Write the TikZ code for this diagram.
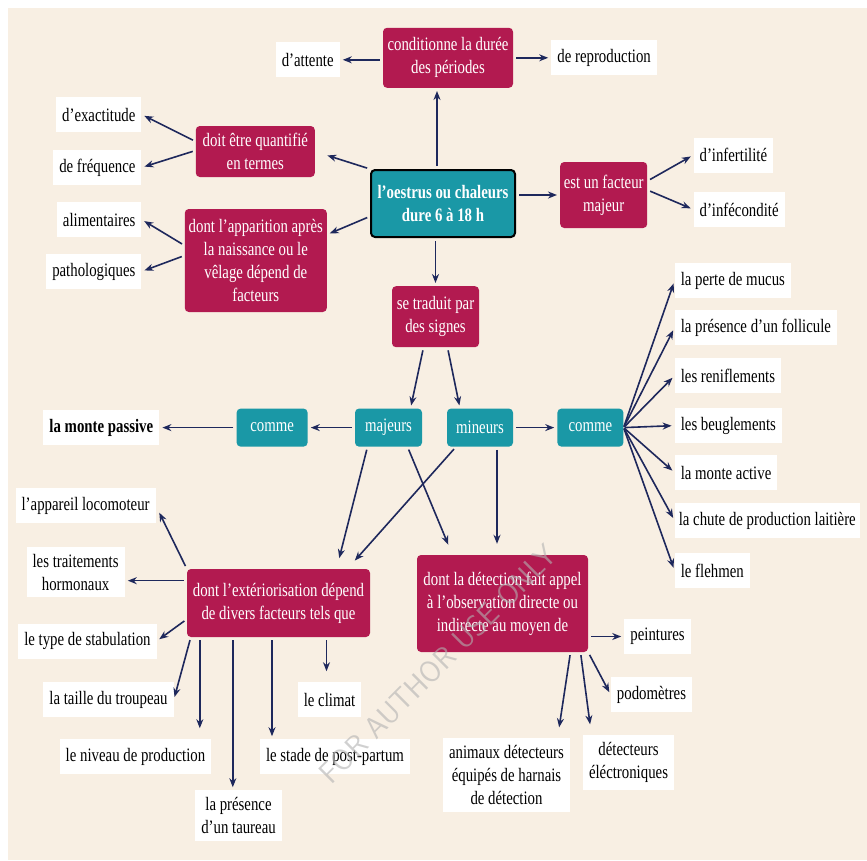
\documentclass[tikz,border=0pt]{standalone}
\usepackage{fontspec}
\setmainfont[FakeStretch=0.78]{Liberation Serif}
\usetikzlibrary{positioning,arrows.meta}
\definecolor{crim}{RGB}{178,26,80}
\definecolor{sea}{RGB}{26,152,166}
\definecolor{navy}{RGB}{30,40,92}
\definecolor{cream}{RGB}{248,239,227}
\newcommand\mapfont{\fontsize{19}{23}\selectfont}
\tikzset{
    redbox/.style ={
        shape=rectangle,
        rounded corners=4pt,
        fill=crim,
        text=white,
        align=center,
        inner sep=2pt
    },
    seabox/.style ={
        shape=rectangle,
        rounded corners=4pt,
        fill=sea,
        text=white,
        align=center,
        inner sep=2pt
    },
    hub/.style ={
        shape=rectangle,
        rounded corners=4pt,
        draw=black,
        line width=2pt,
        fill=sea,
        text=white,
        align=center,
        inner sep=2pt,
        font=\mapfont\bfseries
    },
    leaf/.style ={
        fill=white,
        text=black,
        align=center,
        inner xsep=6pt,
        inner ysep=7pt,
        minimum height=35pt
    },
    arr/.style ={
        -{Stealth[length=9pt,width=7pt]},
        draw=navy,
        line width=1.6pt,
        shorten >=3pt,
        shorten <=3pt
    },
    far/.style ={
        shorten >=11pt
    }
}

\begin{document}
\begin{tikzpicture}[font=\mapfont]
    \useasboundingbox (0,0) rectangle (867pt,-860pt);
    \fill[white] (0,0) rectangle (867pt,-860pt);
    \fill[cream] (8pt,-8pt) rectangle (867pt,-860pt);

    % centre
    \node[hub, minimum width=144pt, minimum height=67pt] (oestrus) at (443pt,-203.5pt) {l’oestrus ou chaleurs\\dure 6 à 18 h};
    \node[redbox, above=81pt of oestrus, xshift=5pt, minimum width=130pt, minimum height=60pt] (duree) {conditionne la durée\\des périodes};
    \node[leaf, left=43pt of duree, yshift=-2pt] (attente) {d’attente};
    \node[leaf, right=38pt of duree] (reprod) {de reproduction};
    \node[redbox, left=55pt of oestrus, yshift=52pt, minimum width=119pt, minimum height=51pt] (quantif) {doit être quantifié\\en termes};
    \node[leaf, left=54pt of quantif, yshift=37pt] (exact) {d’exactitude};
    \node[leaf, left=54pt of quantif, yshift=-16pt] (freq) {de fréquence};
    \node[redbox, left=43pt of oestrus, yshift=-57pt, minimum width=142pt, minimum height=103pt] (appar) {dont l’apparition après\\la naissance ou le\\vêlage dépend de\\facteurs};
    \node[leaf, left=43pt of appar, yshift=41pt] (alim) {alimentaires};
    \node[leaf, left=43pt of appar, yshift=-11pt] (patho) {pathologiques};
    \node[redbox, right=44pt of oestrus, yshift=8.5pt, minimum width=87pt, minimum height=66pt] (facteur) {est un facteur\\majeur};
    \node[leaf, right=46pt of facteur, yshift=40pt] (infert) {d’infertilité};
    \node[leaf, right=46pt of facteur, yshift=-14.5pt] (infec) {d’infécondité};

    % signes
    \node[redbox, below=48pt of oestrus, xshift=-7.5pt, minimum width=87pt, minimum height=61pt] (signes) {se traduit par\\des signes};
    \node[seabox, below=61pt of signes, xshift=-47pt, minimum width=67pt, minimum height=38pt] (majeurs) {majeurs};
    \node[seabox, below=61pt of signes, xshift=44.5pt, minimum width=66pt, minimum height=38pt] (mineurs) {mineurs};
    \node[seabox, left=47pt of majeurs, minimum width=71pt, minimum height=38pt] (commeA) {comme};
    \node[leaf, left=77pt of commeA, font=\mapfont\bfseries] (passive) {la monte passive};
    \node[seabox, right=44pt of mineurs, minimum width=66pt, minimum height=38pt] (commeB) {comme};
    \node[leaf, right=51pt of commeB, yshift=147pt] (mucus) {la perte de mucus};
    \node[leaf, right=51pt of commeB, yshift=100pt] (follicule) {la présence d’un follicule};
    \node[leaf, right=51pt of commeB, yshift=52pt] (renifl) {les reniflements};
    \node[leaf, right=51pt of commeB, yshift=2pt] (beugl) {les beuglements};
    \node[leaf, right=51pt of commeB, yshift=-45pt] (active) {la monte active};
    \node[leaf, right=51pt of commeB, yshift=-93pt, inner xsep=4pt] (chute) {la chute de production laitière};
    \node[leaf, right=51pt of commeB, yshift=-143pt] (flehmen) {le flehmen};

    % exteriorisation
    \node[redbox, below=122pt of majeurs, xshift=-110pt, minimum width=183pt, minimum height=68pt] (exter) {dont l’extériorisation dépend\\de divers facteurs tels que};
    \node[leaf, left=31pt of exter, yshift=97.5pt] (locomot) {l’appareil locomoteur};
    \node[leaf, left=62pt of exter, yshift=31pt] (hormon) {les traitements\\hormonaux};
    \node[leaf, left=30pt of exter, yshift=-38pt] (stabul) {le type de stabulation};
    \node[leaf, below=45pt of exter, xshift=-170pt] (taille) {la taille du troupeau};
    \node[leaf, below=102pt of exter, xshift=-143pt] (niveau) {le niveau de production};
    \node[leaf, below=153pt of exter, xshift=-40pt] (taureau) {la présence\\d’un taureau};
    \node[leaf, below=102pt of exter, xshift=56.5pt] (stade) {le stade de post-partum};
    \node[leaf, below=45pt of exter, xshift=51pt] (climat) {le climat};

    % detection
    \node[redbox, below=108pt of mineurs, xshift=22.5pt, minimum width=171pt, minimum height=97pt] (detect) {dont la détection fait appel\\à l’observation directe ou\\indirecte au moyen de};
    \node[leaf, right=36pt of detect, yshift=-33pt] (peint) {peintures};
    \node[leaf, below=25pt of detect, xshift=149pt] (podom) {podomètres};
    \node[leaf, below=86pt of detect, xshift=4pt] (animaux) {animaux détecteurs\\équipés de harnais\\de détection};
    \node[leaf, below=83pt of detect, xshift=126pt] (electro) {détecteurs\\éléctroniques};

    % arrows
    \draw[arr] ([xshift=-6pt]oestrus.north) -- ([xshift=-6pt]oestrus.north |- duree.south);
    \draw[arr] (duree.west |- attente.east) -- (attente.east);
    \draw[arr] (duree.east |- reprod.west) -- (reprod.west);
    \draw[arr, shorten >=13pt] (oestrus.north west) -- (quantif.east);
    \draw[arr] ([yshift=10pt]quantif.west) -- (exact.east);
    \draw[arr] ([yshift=1pt]quantif.west) -- (freq.east);
    \draw[arr] (oestrus.190) -- (appar.20);
    \draw[arr] ([yshift=15pt]appar.west) -- (alim.east);
    \draw[arr] ([yshift=5pt]appar.west) -- (patho.east);
    \draw[arr] (oestrus.east |- facteur.west) -- (facteur.west);
    \draw[arr] ([yshift=14pt]facteur.east) -- (infert.west);
    \draw[arr] ([yshift=5pt]facteur.east) -- (infec.west);
    \draw[arr] (oestrus.south -| signes) -- (signes.north);
    \draw[arr] ([xshift=-12pt]signes.south) -- ([xshift=22pt]majeurs.north);
    \draw[arr] ([xshift=12pt]signes.south) -- ([xshift=-20pt]mineurs.north);
    \draw[arr] (majeurs) -- (commeA);
    \draw[arr] (commeA) -- (passive);
    \draw[arr] (mineurs) -- (commeB);
    \draw[arr, shorten <=1pt] (commeB.east) -- (mucus.west);
    \draw[arr, shorten <=1pt] (commeB.east) -- (follicule.west);
    \draw[arr, shorten <=1pt] (commeB.east) -- (renifl.west);
    \draw[arr, shorten <=1pt] (commeB.east) -- (beugl.west);
    \draw[arr, shorten <=1pt] (commeB.east) -- (active.west);
    \draw[arr, shorten <=1pt] (commeB.east) -- (chute.west);
    \draw[arr, shorten <=1pt] (commeB.east) -- (flehmen.west);
    \draw[arr, far] ([xshift=-21pt]majeurs.south) -- ([xshift=58pt]exter.north);
    \draw[arr, far] ([xshift=19pt]majeurs.south) -- ([xshift=-50pt]detect.north);
    \draw[arr, far] ([xshift=-24pt]mineurs.south) -- ([xshift=69pt]exter.north);
    \draw[arr, far] ([xshift=17pt]mineurs.south) -- ([xshift=-5.5pt]detect.north);
    \draw[arr, shorten >=8pt] (exter.north west) -- (locomot.east);
    \draw[arr] (exter.west |- hormon.-10) -- (hormon.-10);
    \draw[arr] (exter.190) -- (stabul.east);
    \draw[arr] ([xshift=4pt]exter.south west) -- (taille.east);
    \draw[arr, far] ([xshift=13pt]exter.south west) -- ([xshift=13pt]exter.south west |- niveau.north);
    \draw[arr] ([xshift=46pt]exter.south west) -- ([xshift=46pt]exter.south west |- taureau.north);
    \draw[arr] ([xshift=-6.5pt]exter.south) -- ([xshift=-6.5pt]exter.south |- stade.north);
    \draw[arr, far] ([xshift=-3pt]climat.north |- exter.south) -- ([xshift=-3pt]climat.north);
    \draw[arr] (detect.east |- peint.west) -- (peint.west);
    \draw[arr] (detect.south east) -- (podom.west);
    \draw[arr, far] ([xshift=68pt]detect.south) -- ([xshift=51pt]animaux.north);
    \draw[arr, far] ([xshift=78pt]detect.south) -- ([xshift=-37pt]electro.north);

    % filigrane
    \node[rotate=45, text=gray!60, opacity=0.6, font=\sffamily\fontsize{30}{30}\selectfont] (mark) at (438pt,-664pt) {FOR AUTHOR USE ONLY};
\end{tikzpicture}
\end{document}
